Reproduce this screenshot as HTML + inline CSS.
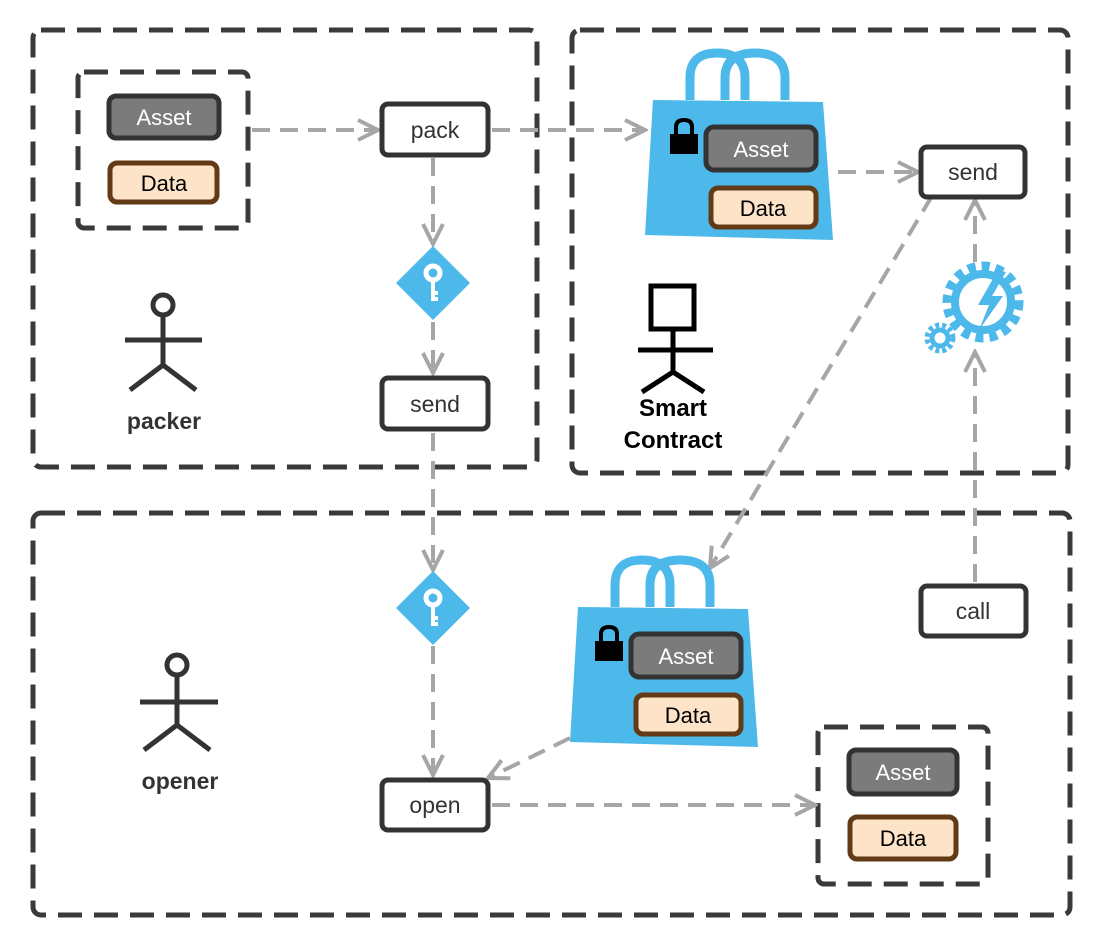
<!DOCTYPE html>
<html><head><meta charset="utf-8"><style>
html,body{margin:0;padding:0;background:#fff;}
svg text{font-family:"Liberation Sans",Arial,sans-serif;}
</style></head><body>
<svg width="1096" height="940" viewBox="0 0 1096 940" xmlns="http://www.w3.org/2000/svg">
<defs>
<marker id="ar" viewBox="0 0 26 26" refX="23" refY="13" markerWidth="26" markerHeight="26" markerUnits="userSpaceOnUse" orient="auto">
<path d="M3,3 L23,13 L3,23" fill="none" stroke="#a6a6a6" stroke-width="4"/>
</marker>
<g id="bag">
<path d="M690,100 L690,78 Q690,53 717,53 Q745,53 745,78 L745,100" fill="none" stroke="#4db8ea" stroke-width="9"/>
<path d="M725,100 L725,78 Q725,53 755,53 Q785,53 785,78 L785,100" fill="none" stroke="#4db8ea" stroke-width="9"/>
<path d="M653,100 L823,102 L833,240 L645,235 Z" fill="#4db8ea"/>
<path d="M676,135 L676,127 Q676,120 684,120 Q692,120 692,127 L692,135" fill="none" stroke="#000" stroke-width="4"/>
<rect x="670" y="134" width="28" height="20" fill="#000"/>
<rect x="706" y="127" width="110" height="43" rx="8" fill="#7b7b7b" stroke="#333" stroke-width="5"/>
<text x="761" y="157" font-size="22" fill="#fff" text-anchor="middle">Asset</text>
<rect x="711" y="188" width="105" height="39" rx="7" fill="#fde3c8" stroke="#623a16" stroke-width="5"/>
<text x="763" y="216" font-size="22" fill="#000" text-anchor="middle">Data</text>
</g>
<g id="key">
<path d="M0,-37 L37,0 L0,37 L-37,0 Z" fill="#4db8ea"/>
<circle cx="0" cy="-10" r="7" fill="none" stroke="#fff" stroke-width="5"/>
<path d="M0,-3 L0,18 M0,10 L5,10 M0,16 L5,16" stroke="#fff" stroke-width="4" fill="none"/>
</g>
</defs>

<g fill="none" stroke="#3a3a3a" stroke-width="5" stroke-dasharray="24,12">
<rect x="33" y="30" width="504" height="437" rx="8"/>
<rect x="572" y="30" width="496" height="443" rx="8"/>
<rect x="33" y="513" width="1037" height="402" rx="8"/>
<rect x="78" y="72" width="170" height="156" rx="6"/>
<rect x="818" y="727" width="170" height="157" rx="6"/>
</g>

<g fill="none" stroke="#a6a6a6" stroke-width="4" stroke-dasharray="18,10" marker-end="url(#ar)">
<path d="M252,130 L378,130"/>
<path d="M492,130 L645,130"/>
<path d="M433,158 L433,244"/>
<path d="M433,322 L433,373"/>
<path d="M433,433 L433,570"/>
<path d="M433,646 L433,775"/>
<path d="M838,172 L918,172"/>
<path d="M932,196 L710,568"/>
<path d="M975,582 L975,352"/>
<path d="M975,262 L975,200"/>
<path d="M570,738 L488,778"/>
<path d="M492,805 L815,805"/>
</g>

<rect x="109" y="96" width="110" height="42" rx="7" fill="#7b7b7b" stroke="#333" stroke-width="5"/>
<text x="164" y="125" font-size="22" fill="#fff" text-anchor="middle">Asset</text>
<rect x="110" y="163" width="107" height="39" rx="7" fill="#fde3c8" stroke="#623a16" stroke-width="5"/>
<text x="164" y="191" font-size="22" fill="#000" text-anchor="middle">Data</text>

<g fill="#fff" stroke="#333" stroke-width="5">
<rect x="382" y="104" width="106" height="51" rx="6"/>
<rect x="382" y="378" width="106" height="51" rx="6"/>
<rect x="921" y="147" width="104" height="50" rx="6"/>
<rect x="921" y="586" width="105" height="50" rx="6"/>
<rect x="382" y="780" width="106" height="50" rx="6"/>
</g>
<g font-size="23" fill="#333" text-anchor="middle">
<text x="435" y="138">pack</text>
<text x="435" y="412">send</text>
<text x="973" y="180">send</text>
<text x="973" y="619">call</text>
<text x="435" y="813">open</text>
</g>

<use href="#key" x="433" y="283"/>
<use href="#key" x="433" y="608"/>

<use href="#bag"/>
<use href="#bag" transform="translate(-75,507)"/>

<rect x="849" y="750" width="108" height="44" rx="7" fill="#7b7b7b" stroke="#333" stroke-width="5"/>
<text x="903" y="780" font-size="22" fill="#fff" text-anchor="middle">Asset</text>
<rect x="850" y="817" width="106" height="42" rx="7" fill="#fde3c8" stroke="#623a16" stroke-width="5"/>
<text x="903" y="846" font-size="22" fill="#000" text-anchor="middle">Data</text>

<!-- gear -->
<g fill="none" stroke="#4db8ea">
<circle cx="983" cy="302" r="28" stroke-width="8"/>
<circle cx="983" cy="302" r="36" stroke-width="9" stroke-dasharray="8,6"/>
<circle cx="940" cy="338" r="8" stroke-width="5"/>
<circle cx="940" cy="338" r="13" stroke-width="5" stroke-dasharray="4,3"/>
</g>
<path d="M998,270 L978,305 L989,305 L979,330 L1003,296 L992,296 L1006,272 Z" fill="#4db8ea"/>

<!-- figures -->
<g fill="none" stroke="#333" stroke-width="5">
<circle cx="163" cy="305" r="10"/>
<path d="M163,315 L163,365 M125,340 L202,340 M163,365 L130,390 M163,365 L196,390"/>
<circle cx="177" cy="665" r="10"/>
<path d="M177,675 L177,725 M140,702 L218,702 M177,725 L144,750 M177,725 L210,750"/>
</g>
<g fill="none" stroke="#000" stroke-width="5">
<rect x="651" y="286" width="43" height="43"/>
<path d="M673,329 L673,372 M638,350 L713,350 M673,372 L642,392 M673,372 L704,392"/>
</g>
<g font-size="23" font-weight="bold" text-anchor="middle">
<text x="164" y="429" fill="#333">packer</text>
<text x="180" y="789" fill="#333">opener</text>
<text x="673" y="416" fill="#000" font-size="24">Smart</text>
<text x="673" y="448" fill="#000" font-size="24">Contract</text>
</g>
</svg>
</body></html>
